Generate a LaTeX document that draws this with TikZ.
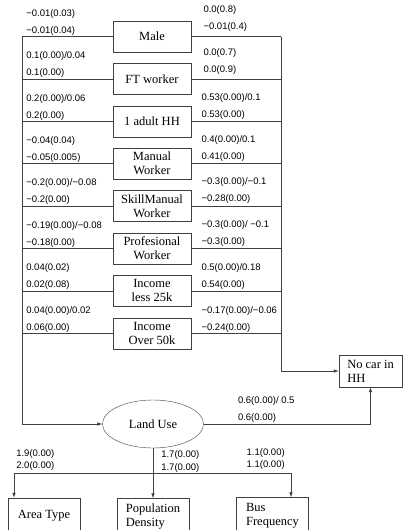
\documentclass[tikz,border=0pt]{standalone}
\usepackage{fontspec}
\setmainfont{Liberation Serif}
\newfontfamily\labfont{Liberation Sans}
\usetikzlibrary{positioning,shapes.geometric,arrows.meta}

\begin{document}
\begin{tikzpicture}[
  x=1pt, y=-1pt,
  font=\fontsize{12.5}{14}\selectfont,
  box/.style={draw=black!75, align=center, minimum width=78pt, minimum height=31pt, inner sep=2pt},
  outbox/.style={draw=black!75, align=left, minimum width=72pt, minimum height=36pt, inner sep=2pt, font=\fontsize{12.5}{13.5}\selectfont},
  lab/.style={font=\labfont\fontsize{9.5}{17}\selectfont, align=left, inner sep=0pt},
  botlab/.style={font=\labfont\fontsize{9.5}{12.5}\selectfont, align=left, inner sep=0pt},
  link/.style={draw=black!75, line width=0.6pt},
  >={Latex[length=5pt,width=3.5pt]}
]
\useasboundingbox (0,0) rectangle (412,530);

% explanatory variables
\node[box] (male) at (152,36.5) {Male};
\node[box, below=11pt of male] (ftw) {FT worker};
\node[box, below=11pt of ftw] (adult) {1 adult HH};
\node[box, below=11pt of adult] (manual) {Manual\\Worker};
\node[box, below=11pt of manual] (skill) {SkillManual\\Worker};
\node[box, below=11pt of skill] (prof) {Profesional\\Worker};
\node[box, below=11pt of prof] (inclow) {Income\\less 25k};
\node[box, below=11pt of inclow] (inchigh) {Income\\Over 50k};

% latent and outcomes
\node[ellipse, draw=black!75, minimum width=101pt, minimum height=48pt] (landuse) at (153,424) {Land Use};
\node[draw=black!75, align=left, minimum width=63pt, minimum height=32pt, inner sep=2pt] (nocar) at (370.5,371) {No car in\\HH};
\node[outbox, align=center] (area) at (44,516) {Area Type};
\node[outbox] (popden) at (153,516.5) {Population\\Density};
\node[outbox] (bus) at (272.5,515.5) {Bus\\Frequency};

\coordinate (lbus) at (22,36.5);
\coordinate (rbus) at (281,36.5);

% left bus into Land Use
\draw[link] (male.west) -- (lbus) node[lab, anchor=south west, xshift=4pt, yshift=1pt] {−0.01(0.03)\\−0.01(0.04)};
\draw[link] (ftw.west) -- (ftw.west -| lbus) node[lab, anchor=south west, xshift=4pt, yshift=1pt] {0.1(0.00)/0.04\\0.1(0.00)};
\draw[link] (adult.west) -- (adult.west -| lbus) node[lab, anchor=south west, xshift=4pt, yshift=1pt] {0.2(0.00)/0.06\\0.2(0.00)};
\draw[link] (manual.west) -- (manual.west -| lbus) node[lab, anchor=south west, xshift=4pt, yshift=1pt] {−0.04(0.04)\\−0.05(0.005)};
\draw[link] (skill.west) -- (skill.west -| lbus) node[lab, anchor=south west, xshift=4pt, yshift=1pt] {−0.2(0.00)/−0.08\\−0.2(0.00)};
\draw[link] (prof.west) -- (prof.west -| lbus) node[lab, anchor=south west, xshift=4pt, yshift=1pt] {−0.19(0.00)/−0.08\\−0.18(0.00)};
\draw[link] (inclow.west) -- (inclow.west -| lbus) node[lab, anchor=south west, xshift=4pt, yshift=1pt] {0.04(0.02)\\0.02(0.08)};
\draw[link] (inchigh.west) -- (inchigh.west -| lbus) node[lab, anchor=south west, xshift=4pt, yshift=1pt] {0.04(0.00)/0.02\\0.06(0.00)};
\draw[link,->] (lbus) |- (landuse.west);

% right bus into No car
\draw[link] (male.east) node[lab, anchor=south west, xshift=12pt, yshift=5pt] {0.0(0.8)\\−0.01(0.4)} -- (rbus);
\draw[link] (ftw.east) node[lab, anchor=south west, xshift=12pt, yshift=4pt] {0.0(0.7)\\0.0(0.9)} -- (ftw.east -| rbus);
\draw[link] (adult.east) node[lab, anchor=south west, xshift=10pt, yshift=2pt] {0.53(0.00)/0.1\\0.53(0.00)} -- (adult.east -| rbus);
\draw[link] (manual.east) node[lab, anchor=south west, xshift=10pt, yshift=2pt] {0.4(0.00)/0.1\\0.41(0.00)} -- (manual.east -| rbus);
\draw[link] (skill.east) node[lab, anchor=south west, xshift=10pt, yshift=2pt] {−0.3(0.00)/−0.1\\−0.28(0.00)} -- (skill.east -| rbus);
\draw[link] (prof.east) node[lab, anchor=south west, xshift=10pt, yshift=2pt] {−0.3(0.00)/ −0.1\\−0.3(0.00)} -- (prof.east -| rbus);
\draw[link] (inclow.east) node[lab, anchor=south west, xshift=10pt, yshift=1pt] {0.5(0.00)/0.18\\0.54(0.00)} -- (inclow.east -| rbus);
\draw[link] (inchigh.east) node[lab, anchor=south west, xshift=10pt, yshift=1pt] {−0.17(0.00)/−0.06\\−0.24(0.00)} -- (inchigh.east -| rbus);
\draw[link,->] (rbus) |- (nocar.west);

% Land Use to outcome and indicators
\draw[link,->] (landuse.east) node[lab, anchor=south west, xshift=34pt, yshift=1pt] {0.6(0.00)/ 0.5\\0.6(0.00)} -| (nocar.south);
\coordinate (bl) at (14,473);
\coordinate (br) at (291,473);
\draw[link] (bl) node[botlab, anchor=south west, xshift=2pt, yshift=2pt] {1.9(0.00)\\2.0(0.00)} -- (br) node[botlab, anchor=south east, xshift=-6pt, yshift=3pt] {1.1(0.00)\\1.1(0.00)};
\draw[link,->] (bl) -- (bl |- area.north);
\draw[link,->] (br) -- (br |- bus.north);
\draw[link,->] (landuse.south) -- (popden.north) node[botlab, pos=0.51, anchor=south west, xshift=8pt, yshift=1pt] {1.7(0.00)\\1.7(0.00)};
\end{tikzpicture}
\end{document}
